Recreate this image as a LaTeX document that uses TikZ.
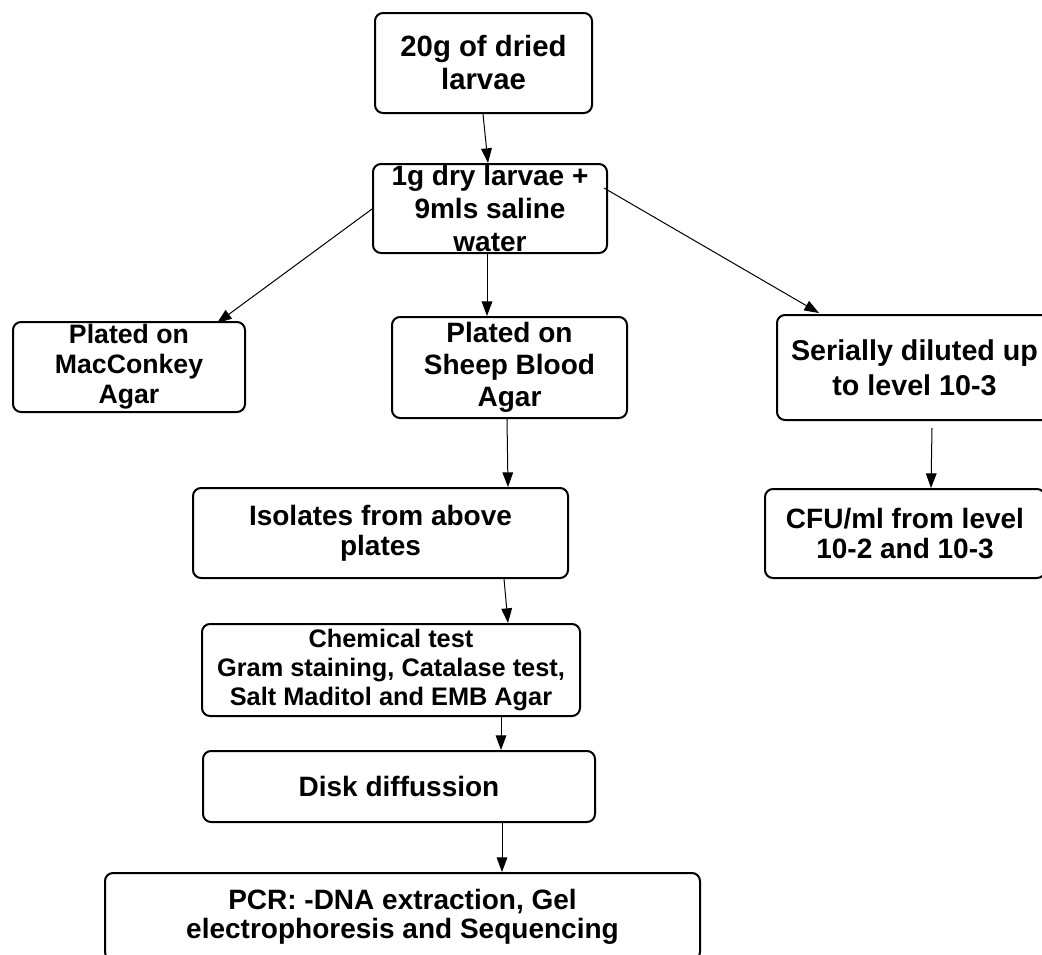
\documentclass[tikz,border=0pt]{standalone}
\usepackage{fontspec}
\setmainfont{Liberation Sans}
\usetikzlibrary{calc,arrows.meta}
\tikzset{
  flowbox/.style={draw, line width=1.5pt, rounded corners=6pt, align=center, inner sep=0pt, font=\bfseries\fontsize{21}{24.75}\selectfont},
  conn/.style={line width=0.75pt, -{Triangle[length=11pt,width=8pt]}},
}
\begin{document}
\begin{tikzpicture}[x=0.75pt,y=-0.75pt]
\useasboundingbox (0,0) rectangle (1042,954);
\clip (0,0) rectangle (1042,954);
\node[flowbox, minimum width=162.75pt, minimum height=75pt, font=\bfseries\fontsize{22}{24.75}\selectfont] (b1) at (483.5,63) {20g of dried\\larvae};
\node[flowbox, minimum width=175.5pt, minimum height=66.75pt] (b2) at (490,208.5) {1g dry larvae +\\9mls saline\\water};
\node[flowbox, minimum width=174pt, minimum height=67.5pt, font=\bfseries\fontsize{20}{22.5}\selectfont] (mac) at (129,367) {Plated on\\MacConkey\\Agar};
\node[flowbox, minimum width=176.25pt, minimum height=75.75pt, font=\bfseries\fontsize{21}{24}\selectfont] (sheep) at (509.5,367.5) {Plated on\\Sheep Blood\\Agar};
\node[flowbox, minimum width=206.25pt, minimum height=78.75pt, font=\bfseries\fontsize{21.5}{26}\selectfont] (ser) at (914.5,367.5) {Serially diluted up\\to level 10-3};
\node[flowbox, minimum width=210pt, minimum height=66.75pt, font=\bfseries\fontsize{21}{22}\selectfont] (cfu) at (905,533.5) {CFU/ml from level\\10-2 and 10-3};
\node[flowbox, minimum width=281.25pt, minimum height=67.5pt, font=\bfseries\fontsize{21}{22.5}\selectfont] (iso) at (380.5,533) {Isolates from above\\plates};
\node[flowbox, minimum width=283.5pt, minimum height=69pt, font=\bfseries\fontsize{19}{21.75}\selectfont] (chem) at (391,670) {Chemical test\\Gram staining, Catalase test,\\Salt Maditol and EMB Agar};
\node[flowbox, minimum width=294pt, minimum height=53.25pt] (disk) at (399,786.5) {Disk diffussion};
\node[flowbox, minimum width=446.25pt, minimum height=65.25pt, font=\bfseries\fontsize{21}{21.75}\selectfont] (pcr) at (402.5,916.5) {PCR: -DNA extraction, Gel\\electrophoresis and Sequencing};
\draw[conn] ($(b1.south west)+(109,0)$) -- ($(b2.north west)+(116,0)$);
\draw[conn] ($(b2.north west)+(0,46)$) -- ($(mac.north east)+(-29,2)$);
\draw[conn] ($(b2.south west)+(115,0)$) -- ($(sheep.north west)+(96,0)$);
\draw[conn] ($(b2.north east)+(-4,25)$) -- ($(ser.north west)+(43,-1)$);
\draw[conn] ($(sheep.south west)+(116,0)$) -- ($(iso.north west)+(316,0)$);
\draw[conn] ($(iso.south west)+(312,0)$) -- ($(chem.north west)+(307,0)$);
\draw[conn] ($(chem.south west)+(300,0)$) -- ($(disk.north west)+(299,0)$);
\draw[conn] ($(disk.south west)+(300,0)$) -- ($(pcr.north west)+(398,0)$);
\draw[conn] ($(ser.south west)+(156,7)$) -- ($(cfu.north west)+(167,0)$);
\end{tikzpicture}
\end{document}
